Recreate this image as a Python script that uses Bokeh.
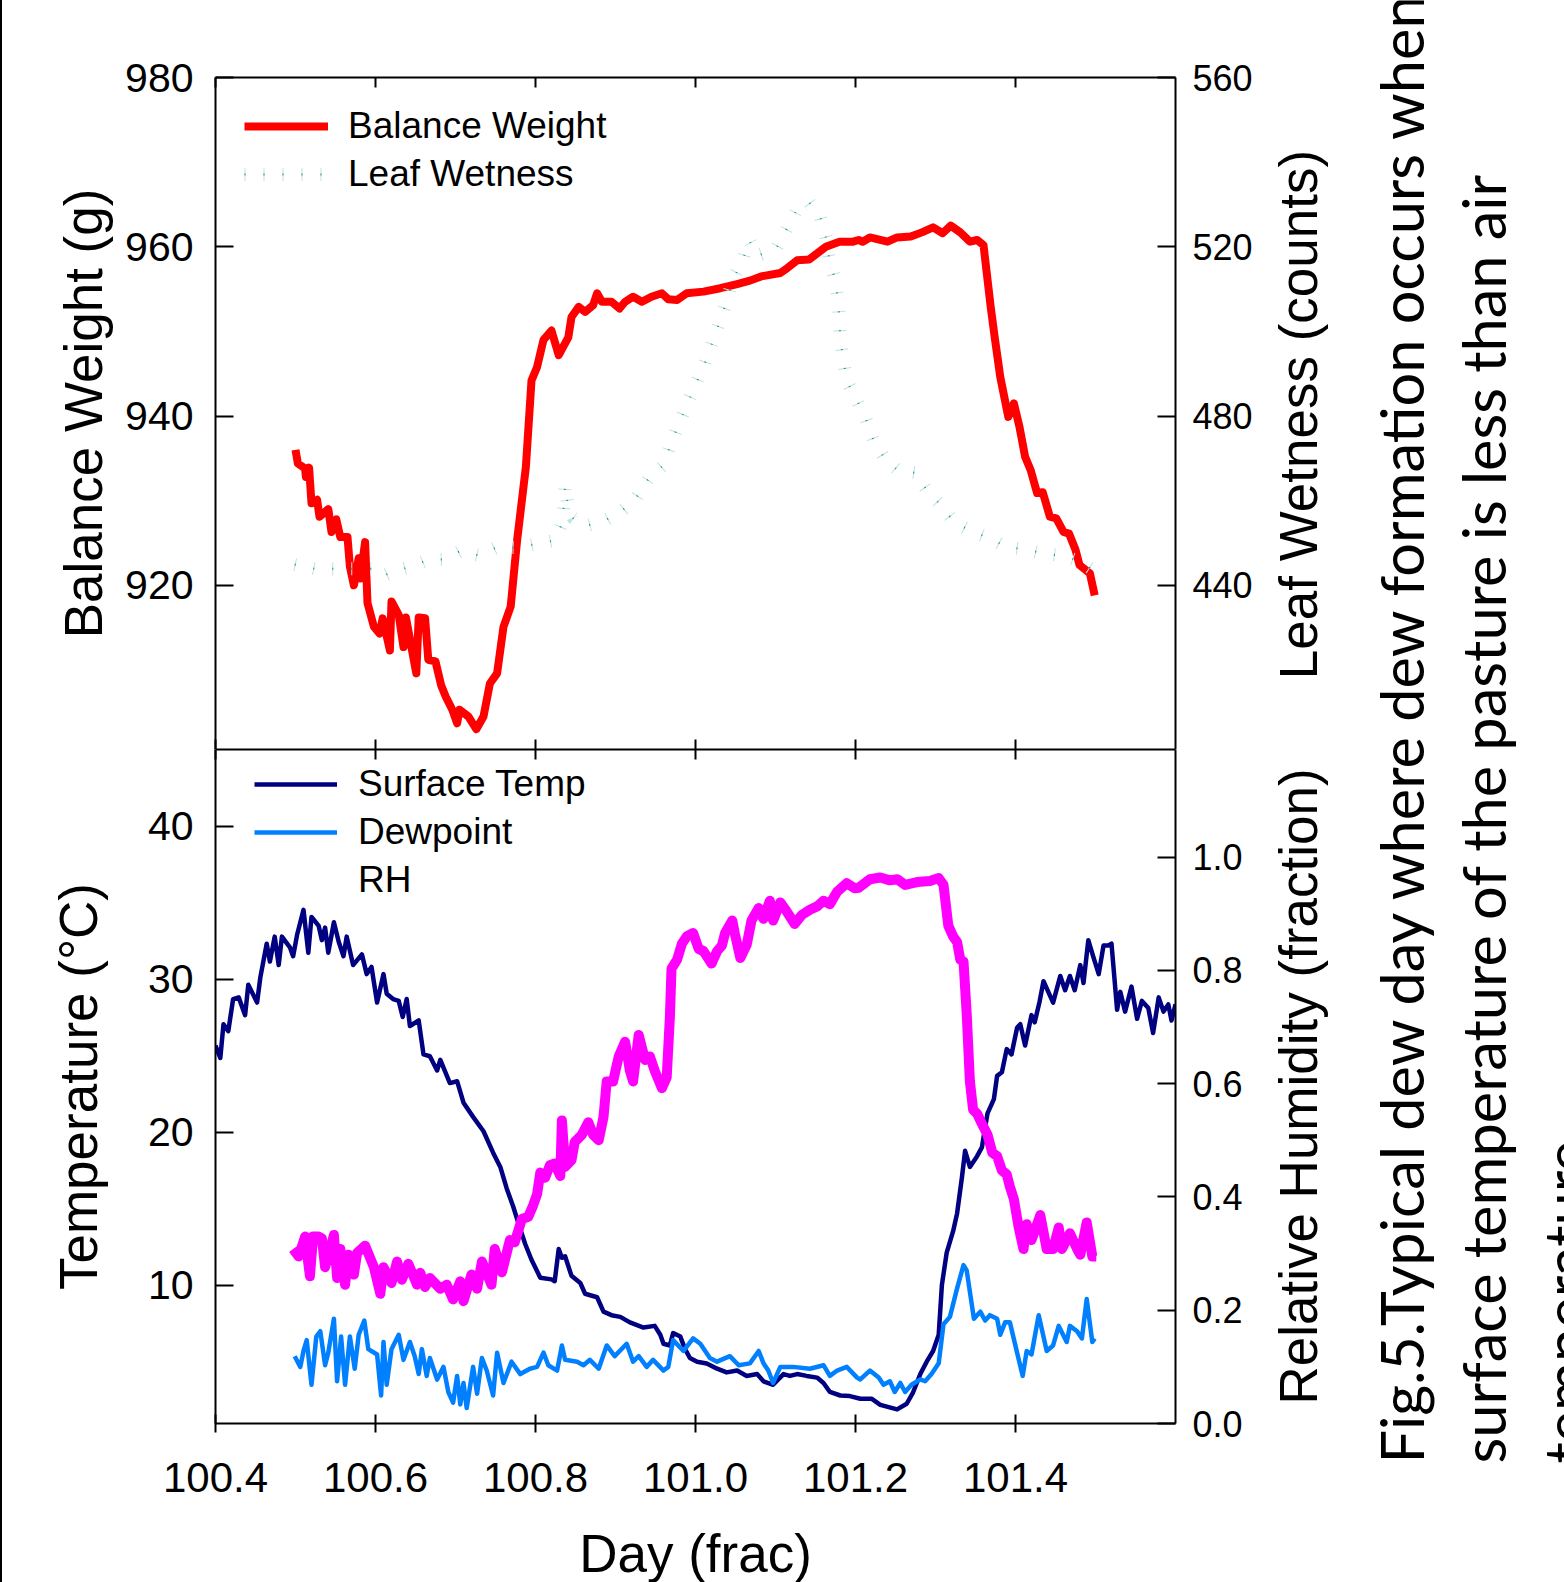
import math
from bokeh.plotting import figure
from bokeh.models import (Range1d, LinearAxis, FixedTicker, Legend, LegendItem,
                          Label, PrintfTickFormatter, Spacer)
from bokeh.layouts import column, row
from bokeh.embed import file_html
from bokeh.resources import INLINE

# ---------------- data ----------------
weight_day = [
    100.500, 100.503, 100.512, 100.513, 100.517, 100.520, 100.527, 100.530, 100.541, 100.545,
    100.551, 100.556, 100.565, 100.568, 100.573, 100.579, 100.581, 100.587, 100.590, 100.598,
    100.605, 100.609, 100.618, 100.620, 100.629, 100.635, 100.638, 100.651, 100.654, 100.662,
    100.666, 100.675, 100.682, 100.688, 100.696, 100.702, 100.705, 100.716, 100.726, 100.735,
    100.743, 100.752, 100.760, 100.769, 100.777, 100.788, 100.795, 100.802, 100.810, 100.820,
    100.829, 100.841, 100.845, 100.854, 100.862, 100.872, 100.877, 100.883, 100.895, 100.905,
    100.912, 100.922, 100.933, 100.945, 100.958, 100.966, 100.977, 100.989, 101.010, 101.031,
    101.052, 101.068, 101.082, 101.106, 101.115, 101.127, 101.142, 101.149, 101.163, 101.180,
    101.197, 101.204, 101.209, 101.218, 101.240, 101.252, 101.269, 101.283, 101.297, 101.309,
    101.319, 101.331, 101.343, 101.352, 101.360, 101.369, 101.374, 101.381, 101.391, 101.398,
    101.405, 101.412, 101.419, 101.427, 101.434, 101.443, 101.451, 101.460, 101.467, 101.475,
    101.480, 101.493, 101.499]
weight_g = [
    936.0, 934.4, 933.8, 932.8, 933.9, 929.7, 930.1, 928.1, 929.0, 926.3,
    927.8, 925.7, 925.7, 922.2, 920.0, 923.2, 920.8, 925.1, 917.9, 915.1,
    914.3, 916.1, 912.3, 918.1, 916.5, 912.7, 916.2, 909.6, 916.2, 916.1,
    911.2, 911.0, 908.2, 906.8, 905.3, 903.7, 905.3, 904.5, 903.0, 904.5,
    908.4, 909.6, 915.1, 917.5, 925.3, 934.0, 944.2, 945.8, 949.0, 950.1,
    947.2, 949.3, 951.7, 952.9, 952.3, 953.1, 954.5, 953.5, 953.5, 952.7,
    953.5, 954.1, 953.5, 954.1, 954.5, 953.8, 953.7, 954.5, 954.7, 955.1,
    955.6, 956.0, 956.5, 956.9, 957.5, 958.4, 958.5, 959.0, 960.0, 960.6,
    960.6, 960.8, 960.6, 961.1, 960.6, 961.1, 961.2, 961.7, 962.3, 961.6,
    962.5, 961.7, 960.6, 960.8, 960.2, 952.9, 949.3, 944.6, 939.9, 941.5,
    938.7, 935.2, 933.6, 930.9, 931.0, 928.1, 927.9, 926.3, 926.1, 924.2,
    922.4, 921.4, 918.8]

leaf_day = [
    100.499, 100.524, 100.548, 100.573, 100.598, 100.609, 100.626, 100.646, 100.665, 100.685,
    100.706, 100.729, 100.752, 100.777, 100.802, 100.824, 100.834, 100.837, 100.840, 100.847,
    100.862, 100.883, 100.903, 100.924, 100.941, 100.960, 100.969, 100.979, 100.990, 101.001,
    101.012, 101.021, 101.030, 101.039, 101.046, 101.059, 101.067, 101.077, 101.100, 101.114,
    101.127, 101.142, 101.156, 101.163, 101.167, 101.174, 101.178, 101.180, 101.181, 101.185,
    101.189, 101.202, 101.213, 101.222, 101.237, 101.253, 101.274, 101.289, 101.306, 101.324,
    101.345, 101.367, 101.389, 101.412, 101.436, 101.461, 101.480, 101.499]
leaf_counts = [
    444.9, 443.9, 443.9, 443.9, 443.9, 442.2, 443.5, 444.5, 446.0, 446.1,
    448.1, 447.1, 449.0, 448.9, 449.8, 450.6, 455.0, 463.6, 459.5, 455.9,
    454.0, 455.0, 456.9, 460.1, 465.1, 468.4, 473.3, 478.1, 483.0, 487.8,
    492.6, 497.4, 502.2, 507.1, 512.0, 516.7, 521.6, 517.9, 519.3, 524.2,
    528.9, 530.5, 527.0, 522.1, 517.4, 512.4, 507.7, 502.8, 498.0, 493.1,
    488.3, 483.6, 479.3, 474.5, 469.8, 467.2, 466.6, 462.5, 459.1, 454.8,
    452.8, 451.2, 449.0, 448.5, 447.5, 446.9, 445.7, 443.4]

temp_day = [
    100.400, 100.406, 100.410, 100.416, 100.422, 100.429, 100.437, 100.441, 100.452, 100.456,
    100.464, 100.468, 100.474, 100.479, 100.483, 100.493, 100.497, 100.502, 100.510, 100.516,
    100.520, 100.529, 100.533, 100.537, 100.541, 100.548, 100.554, 100.560, 100.564, 100.572,
    100.583, 100.589, 100.595, 100.602, 100.610, 100.614, 100.622, 100.629, 100.634, 100.639,
    100.643, 100.654, 100.660, 100.668, 100.677, 100.681, 100.693, 100.702, 100.710, 100.722,
    100.735, 100.747, 100.756, 100.764, 100.772, 100.779, 100.787, 100.795, 100.806, 100.820,
    100.824, 100.829, 100.833, 100.837, 100.845, 100.856, 100.862, 100.877, 100.885, 100.895,
    100.906, 100.918, 100.935, 100.949, 100.956, 100.960, 100.968, 100.972, 100.981, 100.987,
    100.993, 101.002, 101.014, 101.027, 101.039, 101.052, 101.064, 101.077, 101.085, 101.097,
    101.110, 101.118, 101.127, 101.139, 101.152, 101.160, 101.168, 101.181, 101.193, 101.206,
    101.220, 101.231, 101.252, 101.264, 101.272, 101.281, 101.289, 101.297, 101.304, 101.308,
    101.314, 101.322, 101.327, 101.333, 101.337, 101.343, 101.352, 101.358, 101.362, 101.365,
    101.373, 101.377, 101.383, 101.389, 101.395, 101.402, 101.406, 101.412, 101.420, 101.424,
    101.430, 101.435, 101.441, 101.447, 101.456, 101.462, 101.468, 101.474, 101.481, 101.485,
    101.491, 101.497, 101.504, 101.510, 101.516, 101.520, 101.527, 101.531, 101.537, 101.545,
    101.552, 101.558, 101.566, 101.572, 101.579, 101.585, 101.591, 101.595, 101.600]
surface_temp = [
    25.65, 24.84, 27.05, 26.59, 28.69, 28.80, 27.64, 29.62, 28.46, 30.09,
    32.31, 31.14, 32.77, 30.91, 32.77, 32.07, 31.49, 32.89, 34.52, 31.72,
    34.06, 33.47, 32.54, 33.36, 31.72, 33.71, 32.43, 31.49, 32.77, 30.91,
    31.61, 30.32, 30.79, 28.46, 30.32, 29.04, 28.69, 28.57, 27.52, 28.69,
    26.93, 27.29, 25.07, 24.95, 24.02, 24.72, 23.20, 23.32, 21.92, 20.99,
    20.05, 18.65, 17.72, 16.31, 15.15, 13.98, 12.70, 11.65, 10.48, 10.37,
    10.25, 12.35, 11.78, 11.88, 10.60, 10.13, 9.43, 9.20, 8.26, 8.03,
    7.92, 7.56, 7.22, 7.33, 6.75, 6.16, 6.05, 6.86, 6.63, 5.81,
    5.23, 4.99, 4.87, 4.53, 4.29, 4.41, 4.06, 4.18, 3.71, 3.48,
    4.18, 4.06, 4.18, 4.06, 3.95, 3.60, 3.01, 2.78, 2.74, 2.57,
    2.57, 2.17, 1.87, 2.24, 2.99, 4.18, 4.99, 5.69, 6.75, 10.01,
    12.12, 13.52, 14.68, 17.02, 18.77, 17.72, 18.42, 19.00, 20.29, 21.22,
    22.15, 23.67, 23.91, 25.42, 25.07, 26.82, 27.05, 25.65, 27.64, 27.17,
    28.50, 29.86, 29.16, 28.46, 30.20, 29.27, 30.20, 29.27, 30.91, 29.74,
    32.54, 31.49, 30.32, 32.19, 32.19, 32.31, 27.99, 29.16, 27.87, 29.50,
    27.40, 28.57, 28.10, 26.47, 28.80, 27.87, 28.34, 27.29, 28.34]

dew_day = [
    100.499, 100.506, 100.510, 100.514, 100.520, 100.526, 100.531, 100.537, 100.541, 100.548,
    100.552, 100.557, 100.562, 100.568, 100.574, 100.579, 100.586, 100.591, 100.602, 100.607,
    100.610, 100.614, 100.620, 100.629, 100.635, 100.643, 100.649, 100.654, 100.658, 100.664,
    100.668, 100.677, 100.685, 100.691, 100.697, 100.702, 100.706, 100.710, 100.714, 100.722,
    100.727, 100.733, 100.739, 100.747, 100.752, 100.760, 100.770, 100.781, 100.793, 100.802,
    100.810, 100.816, 100.827, 100.833, 100.837, 100.852, 100.860, 100.868, 100.879, 100.889,
    100.899, 100.914, 100.922, 100.929, 100.939, 100.947, 100.960, 100.966, 100.972, 100.985,
    100.997, 101.006, 101.018, 101.027, 101.043, 101.054, 101.068, 101.079, 101.085, 101.091,
    101.097, 101.106, 101.122, 101.143, 101.160, 101.168, 101.177, 101.189, 101.202, 101.206,
    101.218, 101.229, 101.235, 101.243, 101.249, 101.256, 101.262, 101.270, 101.281, 101.287,
    101.295, 101.304, 101.310, 101.318, 101.327, 101.335, 101.339, 101.348, 101.356, 101.362,
    101.368, 101.377, 101.381, 101.387, 101.393, 101.402, 101.409, 101.414, 101.420, 101.429,
    101.439, 101.447, 101.454, 101.464, 101.468, 101.477, 101.483, 101.489, 101.496, 101.499]
dewpoint = [
    5.35, 4.65, 5.69, 6.40, 3.48, 6.63, 6.98, 4.76, 5.58, 7.80,
    3.71, 6.63, 3.48, 6.63, 4.53, 6.75, 7.68, 5.81, 5.46, 2.78,
    6.28, 3.48, 5.81, 6.75, 5.11, 6.28, 5.35, 4.18, 5.81, 4.06,
    5.23, 3.82, 4.65, 3.01, 2.31, 4.06, 2.20, 3.60, 1.96, 4.65,
    2.90, 5.23, 4.41, 2.78, 5.58, 3.60, 4.99, 4.18, 4.53, 4.65,
    5.58, 4.76, 4.41, 6.05, 5.11, 4.99, 4.76, 5.11, 4.53, 6.05,
    5.35, 6.16, 4.99, 5.35, 4.65, 5.11, 4.41, 4.65, 6.40, 5.69,
    6.51, 6.16, 5.23, 4.99, 5.35, 4.76, 4.88, 5.69, 4.88, 4.41,
    3.60, 4.65, 4.65, 4.53, 4.76, 4.06, 4.41, 4.65, 3.95, 3.83,
    4.41, 3.95, 3.48, 3.71, 3.01, 3.60, 3.01, 3.48, 3.83, 3.71,
    4.18, 4.88, 7.44, 7.92, 9.78, 11.30, 10.95, 7.80, 8.26, 7.68,
    8.03, 7.80, 6.75, 7.56, 7.56, 5.58, 4.06, 5.69, 5.46, 8.03,
    5.69, 6.05, 7.33, 6.28, 7.33, 6.98, 6.51, 9.08, 6.28, 6.51]

rh_day = [
    100.497, 100.504, 100.512, 100.518, 100.522, 100.529, 100.533, 100.537, 100.541, 100.548,
    100.552, 100.556, 100.562, 100.566, 100.573, 100.577, 100.587, 100.598, 100.606, 100.610,
    100.620, 100.627, 100.633, 100.641, 100.652, 100.656, 100.662, 100.668, 100.681, 100.689,
    100.697, 100.706, 100.710, 100.720, 100.727, 100.733, 100.745, 100.749, 100.758, 100.768,
    100.774, 100.783, 100.791, 100.797, 100.802, 100.806, 100.812, 100.818, 100.824, 100.831,
    100.833, 100.837, 100.845, 100.849, 100.858, 100.866, 100.872, 100.879, 100.885, 100.889,
    100.897, 100.904, 100.912, 100.918, 100.922, 100.929, 100.937, 100.943, 100.949, 100.958,
    100.964, 100.968, 100.970, 100.977, 100.983, 100.989, 100.997, 101.004, 101.010, 101.020,
    101.027, 101.033, 101.037, 101.046, 101.049, 101.056, 101.064, 101.070, 101.079, 101.085,
    101.093, 101.097, 101.106, 101.114, 101.124, 101.133, 101.143, 101.152, 101.160, 101.168,
    101.177, 101.189, 101.199, 101.204, 101.218, 101.231, 101.243, 101.252, 101.262, 101.277,
    101.293, 101.304, 101.310, 101.316, 101.322, 101.327, 101.331, 101.335, 101.339, 101.343,
    101.347, 101.352, 101.356, 101.365, 101.371, 101.377, 101.383, 101.389, 101.393, 101.398,
    101.404, 101.410, 101.414, 101.420, 101.431, 101.439, 101.447, 101.454, 101.458, 101.468,
    101.477, 101.481, 101.489, 101.496, 101.501]
rh_frac = [
    0.308, 0.295, 0.330, 0.260, 0.330, 0.330, 0.327, 0.276, 0.295, 0.333,
    0.257, 0.308, 0.245, 0.298, 0.263, 0.301, 0.314, 0.276, 0.229, 0.276,
    0.248, 0.286, 0.254, 0.282, 0.245, 0.266, 0.241, 0.257, 0.238, 0.245,
    0.219, 0.251, 0.216, 0.263, 0.238, 0.286, 0.245, 0.308, 0.267, 0.324,
    0.320, 0.361, 0.365, 0.385, 0.405, 0.443, 0.434, 0.456, 0.459, 0.437,
    0.535, 0.453, 0.465, 0.497, 0.510, 0.532, 0.510, 0.500, 0.541, 0.604,
    0.604, 0.648, 0.674, 0.623, 0.604, 0.686, 0.642, 0.648, 0.623, 0.592,
    0.611, 0.718, 0.803, 0.819, 0.847, 0.860, 0.866, 0.838, 0.834, 0.812,
    0.834, 0.844, 0.866, 0.888, 0.866, 0.822, 0.845, 0.888, 0.910, 0.891,
    0.923, 0.888, 0.920, 0.904, 0.882, 0.898, 0.907, 0.913, 0.923, 0.917,
    0.939, 0.954, 0.945, 0.946, 0.961, 0.964, 0.959, 0.961, 0.951, 0.956,
    0.958, 0.963, 0.951, 0.879, 0.860, 0.850, 0.819, 0.816, 0.724, 0.604,
    0.554, 0.547, 0.535, 0.510, 0.478, 0.472, 0.447, 0.440, 0.418, 0.396,
    0.346, 0.308, 0.352, 0.324, 0.368, 0.308, 0.308, 0.346, 0.308, 0.336,
    0.308, 0.298, 0.355, 0.295, 0.295]

x_ticks = [100.4, 100.6, 100.8, 101.0, 101.2, 101.4]
weight_ticks = [920, 940, 960, 980]
leaf_ticks = [440, 480, 520, 560]
temp_ticks = [10, 20, 30, 40]
rh_ticks = [0.0, 0.2, 0.4, 0.6, 0.8, 1.0]

caption_lines = ["Fig.5.Typical dew day where dew formation occurs when",
                 "surface temperature of the pasture is less than air",
                 "temperature"]

# ---------------- style ----------------
FONT = "Liberation Sans"
CAP_FONT = "Lato"
RED = "#ff0000"
NAVY = "#000080"
DEW = "#0080ff"
MAG = "#ff00ff"
RIGHT_BORDER = 90

xr = Range1d(100.4, 101.6)


def style_axis(ax, ticks, tin, tout, label_size, standoff, font=FONT):
    ax.ticker = FixedTicker(ticks=ticks, minor_ticks=[])
    ax.axis_line_color = "black"
    ax.axis_line_width = 2
    ax.major_tick_line_color = "black"
    ax.major_tick_line_width = 2
    ax.major_tick_in = tin
    ax.major_tick_out = tout
    ax.minor_tick_line_color = None
    ax.major_label_text_font = font
    ax.major_label_text_font_size = label_size
    ax.major_label_text_color = "black"
    ax.major_label_standoff = standoff


def tick_only_axis(tin):
    # frame edge with inward tick marks only (no labels)
    ax = LinearAxis()
    ax.ticker = FixedTicker(ticks=[], minor_ticks=x_ticks)
    ax.axis_line_color = "black"
    ax.axis_line_width = 2
    ax.major_tick_line_color = None
    ax.minor_tick_line_color = "black"
    ax.minor_tick_line_width = 2
    ax.minor_tick_in = tin
    ax.minor_tick_out = 0
    ax.major_label_standoff = 0
    return ax


def base_fig(yr, top, fh, bottom):
    p = figure(x_range=xr, y_range=yr, frame_width=960, frame_height=fh,
               min_border_left=213, min_border_right=RIGHT_BORDER,
               min_border_top=top, min_border_bottom=bottom,
               toolbar_location=None, output_backend="svg",
               x_axis_location=None, y_axis_location=None)
    p.xgrid.visible = False
    p.ygrid.visible = False
    p.outline_line_color = None
    p.background_fill_color = "white"
    p.border_fill_color = "white"
    return p


def axis_title(ax, text, standoff):
    ax.axis_label = text
    ax.axis_label_text_font = FONT
    ax.axis_label_text_font_size = "53px"
    ax.axis_label_text_font_style = "normal"
    ax.axis_label_text_color = "black"
    ax.axis_label_standoff = standoff


# ---------------- top panel ----------------
p1 = base_fig(Range1d(900.6, 980), 77, 672, 0)
p1.extra_y_ranges = {"lw": Range1d(401.2, 560)}

ax = LinearAxis()
style_axis(ax, weight_ticks, 18, 0, "41px", 22)
axis_title(ax, "Balance Weight (g)", 9)
p1.add_layout(ax, "left")

ax = LinearAxis(y_range_name="lw")
style_axis(ax, leaf_ticks, 18, 0, "36px", 17)
p1.add_layout(ax, "right")

p1.add_layout(tick_only_axis(10), "above")
p1.add_layout(tick_only_axis(10), "below")

r_w = p1.line(weight_day, weight_g, line_color=RED, line_width=8, line_join="round")
r_l1 = p1.line(leaf_day, leaf_counts, y_range_name="lw", line_color="#bfe2e2",
               line_width=13, line_dash="1 18", line_cap="butt")
r_l2 = p1.line(leaf_day, leaf_counts, y_range_name="lw", line_color="#1e8c8c",
               line_width=2, line_dash="1 18", line_cap="butt")

leg1 = Legend(items=[LegendItem(label="Balance Weight", renderers=[r_w]),
                     LegendItem(label="Leaf Wetness", renderers=[r_l1, r_l2])],
              location=(29, 553), orientation="vertical",
              glyph_width=84, glyph_height=44, label_height=44, spacing=4,
              label_standoff=20, padding=0, margin=0,
              label_text_font=FONT, label_text_font_size="37px",
              label_text_color="black",
              background_fill_alpha=0, border_line_alpha=0)
p1.add_layout(leg1)

# ---------------- bottom panel ----------------
p2 = base_fig(Range1d(0.95, 45.0), 0, 674, 159)
p2.extra_y_ranges = {"rh": Range1d(0.0, 1.19)}

ax = LinearAxis()
style_axis(ax, temp_ticks, 18, 0, "41px", 22)
axis_title(ax, "Temperature (°C)", 37)
p2.add_layout(ax, "left")

ax = LinearAxis(y_range_name="rh")
style_axis(ax, rh_ticks, 18, 0, "36px", 17)
ax.formatter = PrintfTickFormatter(format="%.1f")
p2.add_layout(ax, "right")

p2.add_layout(tick_only_axis(10), "above")

ax = LinearAxis()
style_axis(ax, x_ticks, 9, 9, "42px", 30)
ax.formatter = PrintfTickFormatter(format="%.1f")
axis_title(ax, "Day (frac)", 29)
p2.add_layout(ax, "below")

r_t = p2.line(temp_day, surface_temp, line_color=NAVY, line_width=4.5, line_join="round")
r_d = p2.line(dew_day, dewpoint, line_color=DEW, line_width=4.5, line_join="round")
r_h = p2.line(rh_day, rh_frac, y_range_name="rh", line_color=MAG, line_width=10,
              line_join="round")
r_blank = p2.line(x=[], y=[], line_alpha=0)

leg2 = Legend(items=[LegendItem(label="Surface Temp", renderers=[r_t]),
                     LegendItem(label="Dewpoint", renderers=[r_d]),
                     LegendItem(label="RH", renderers=[r_blank])],
              location=(39, 521), orientation="vertical",
              glyph_width=83, glyph_height=44, label_height=44, spacing=4,
              label_standoff=21, padding=0, margin=0,
              label_text_font=FONT, label_text_font_size="37px",
              label_text_color="black",
              background_fill_alpha=0, border_line_alpha=0)
p2.add_layout(leg2)

# ---------------- right-side titles and caption ----------------
CAP_W = 1564 - 2 - 213 - 960 - RIGHT_BORDER
cap = figure(width=CAP_W, height=1582, x_range=Range1d(0, 1), y_range=Range1d(0, 1),
             min_border=0, toolbar_location=None, output_backend="svg",
             x_axis_type=None, y_axis_type=None)
cap.xgrid.visible = False
cap.ygrid.visible = False
cap.outline_line_color = None

cap.add_layout(Label(x=33, y=1168, x_units="screen", y_units="screen",
                     text="Leaf Wetness (counts)", angle=math.pi / 2,
                     text_align="center", text_baseline="alphabetic",
                     text_font=FONT, text_font_size="53px", text_color="black"))
cap.add_layout(Label(x=33, y=496, x_units="screen", y_units="screen",
                     text="Relative Humidity (fraction)", angle=math.pi / 2,
                     text_align="center", text_baseline="alphabetic",
                     text_font=FONT, text_font_size="53px", text_color="black"))
for i, txt in enumerate(caption_lines):
    cap.add_layout(Label(x=135 + 82 * i, y=119, x_units="screen", y_units="screen",
                         text=txt, angle=math.pi / 2, text_align="left",
                         text_baseline="alphabetic", text_font=CAP_FONT,
                         text_font_size="59.5px", text_color="black"))

edge = Spacer(width=2, height=1582, styles={"background-color": "black"})
layout = row(edge, column(p1, p2, spacing=0), cap, spacing=0)

open("out.html", "w").write(file_html(layout, INLINE))
